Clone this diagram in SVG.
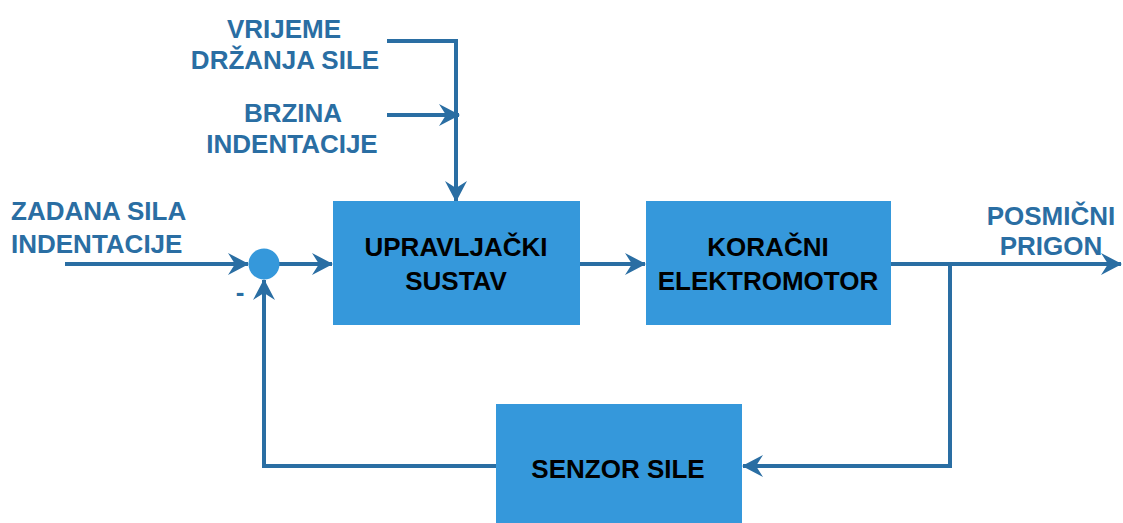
<svg xmlns="http://www.w3.org/2000/svg" width="1123" height="523" viewBox="0 0 1123 523">
<style>
.box{fill:#3598db;}
.ln{fill:none;stroke:#2a6ea3;stroke-width:4;}
.lbl{font-family:"Liberation Sans",Arial,sans-serif;font-weight:bold;font-size:26px;fill:#2a6ea3;text-anchor:middle;}
.bt{font-family:"Liberation Sans",Arial,sans-serif;font-weight:bold;font-size:26px;fill:#000;text-anchor:middle;}
</style>
<defs>
<marker id="ah" markerWidth="12" markerHeight="12" refX="10" refY="6" orient="auto" markerUnits="userSpaceOnUse" viewBox="0 0 12 12">
<path d="M0,0 L11,6 L0,12 L4,6 Z" fill="#2a6ea3"/>
</marker>
<marker id="ahl" markerWidth="22" markerHeight="22" refX="20" refY="11" orient="auto" markerUnits="userSpaceOnUse" viewBox="0 0 22 22">
<path d="M0,0 L21,11 L0,22 L7,11 Z" fill="#2a6ea3"/>
</marker>
</defs>
<g id="connectors">
<path class="ln" d="M65,264 H248" marker-end="url(#ahl)"/>
<path class="ln" d="M279,264 H332" marker-end="url(#ahl)"/>
<path class="ln" d="M580,264 H645" marker-end="url(#ahl)"/>
<path class="ln" d="M891,264 H1121" marker-end="url(#ahl)"/>
<path class="ln" d="M950,264 V466 H743" marker-end="url(#ahl)"/>
<path class="ln" d="M496,466 H264 V280" marker-end="url(#ahl)"/>
<path class="ln" d="M387,41 H456 V201" marker-end="url(#ahl)"/>
<path class="ln" d="M387,115 H459" marker-end="url(#ahl)"/>
</g>
<g id="sum">
<circle cx="264" cy="264" r="15.5" fill="#3598db"/>
<text x="240" y="301" class="lbl" style="fill:#2a6ea3">-</text>
</g>
<g id="upravljacki">
<rect class="box" x="333" y="201" width="247" height="124"/>
<text class="bt" x="456" y="256">UPRAVLJAČKI</text>
<text class="bt" x="456" y="290">SUSTAV</text>
</g>
<g id="koracni">
<rect class="box" x="646" y="201" width="245" height="124"/>
<text class="bt" x="768" y="256">KORAČNI</text>
<text class="bt" x="768" y="290">ELEKTROMOTOR</text>
</g>
<g id="senzor">
<rect class="box" x="496" y="404" width="246" height="120"/>
<text class="bt" x="618" y="478">SENZOR SILE</text>
</g>
<g id="labels">
<text class="lbl" x="284" y="38">VRIJEME</text>
<text class="lbl" x="285" y="69">DRŽANJA SILE</text>
<text class="lbl" x="293" y="122">BRZINA</text>
<text class="lbl" x="292" y="153">INDENTACIJE</text>
<text class="lbl" x="11" y="220" style="text-anchor:start">ZADANA SILA</text>
<text class="lbl" x="11" y="253" style="text-anchor:start">INDENTACIJE</text>
<text class="lbl" x="1051" y="225">POSMIČNI</text>
<text class="lbl" x="1051" y="255">PRIGON</text>
</g>
</svg>
